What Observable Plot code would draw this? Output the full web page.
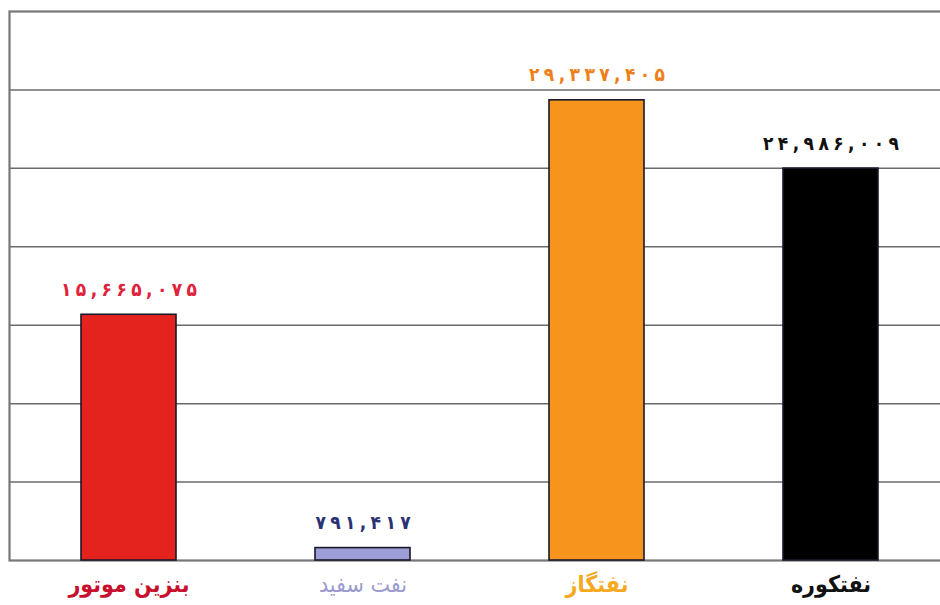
<!DOCTYPE html>
<html>
<head>
<meta charset="utf-8">
<script src="https://cdn.jsdelivr.net/npm/d3@7"></script>
<script src="https://cdn.jsdelivr.net/npm/@observablehq/plot@0.6"></script>
<style>
  html, body { margin: 0; padding: 0; background: #fff; }
  #chart { width: 940px; height: 605px; overflow: hidden; }
  #chart svg { overflow: hidden; }
</style>
</head>
<body>
<div id="chart"></div>
<script>
const categories = ["بنزین موتور", "نفت سفید", "نفتگاز", "نفتکوره"];
const values = [15665075, 791417, 29337405, 24986009];
const barColors = ["#e4231f", "#9d9dd8", "#f7941e", "#000000"];
const valueLabelColors = ["#e0223a", "#2b3374", "#ee7f1a", "#111111"];
const categoryLabelColors = ["#c8102e", "#9b9bcf", "#f5a91f", "#111111"];
const gridTicks = [0, 5e6, 10e6, 15e6, 20e6, 25e6, 30e6, 35e6];

const faDigits = "۰۱۲۳۴۵۶۷۸۹";
const toFa = s => s.replace(/[0-9]/g, d => faDigits[+d]);
const fmt = v => toFa(d3.format(",")(v));

const data = categories.map((c, i) => ({
  cat: c, value: values[i], bar: barColors[i],
  vlab: valueLabelColors[i], clab: categoryLabelColors[i]
}));
const lightCat = "نفت سفید";
const condensed = "'DejaVu Sans Condensed', 'DejaVu Sans', sans-serif";

const chart = Plot.plot({
  width: 940,
  height: 605,
  marginLeft: 9,
  marginRight: -10,
  marginTop: 11,
  marginBottom: 45,
  x: { domain: categories, paddingInner: 0.595, paddingOuter: 0.3025, axis: null },
  y: { domain: [0, 35e6], axis: null },
  style: { background: "#fff" },
  marks: [
    Plot.ruleY(gridTicks.slice(1, -1), { stroke: "#6a6a6a", strokeWidth: 1.5 }),
    Plot.frame({ stroke: "#777", strokeWidth: 2.2 }),
    Plot.barY(data, { x: "cat", y: "value", fill: "bar", stroke: "#1a1a2a", strokeWidth: 1.6 }),
    Plot.text(data, {
      x: "cat", y: "value", text: d => fmt(d.value), fill: "vlab",
      lineAnchor: "bottom", dy: -19, fontSize: 19, fontWeight: "bold",
      fontFamily: condensed
    }),
    Plot.text(data.filter(d => d.cat !== lightCat), {
      x: "cat", y: () => 0, text: "cat", fill: "clab",
      lineAnchor: "top", dy: 15, fontSize: 23, fontWeight: "bold",
      fontFamily: condensed
    }),
    Plot.text(data.filter(d => d.cat === lightCat), {
      x: "cat", y: () => 0, text: "cat", fill: "clab",
      lineAnchor: "top", dy: 15, fontSize: 23, fontWeight: "normal",
      fontFamily: condensed
    })
  ]
});
// spread the value-label digits (letter-spacing is ignored for Arabic-script digits)
chart.querySelectorAll("text").forEach(t => {
  const s = t.textContent;
  if (/[\u06F0-\u06F9]/.test(s)) {
    t.setAttribute("textLength", (s.length * 13.6).toFixed(1));
    t.setAttribute("lengthAdjust", "spacing");
  }
});
document.getElementById("chart").appendChild(chart);
</script>
</body>
</html>
